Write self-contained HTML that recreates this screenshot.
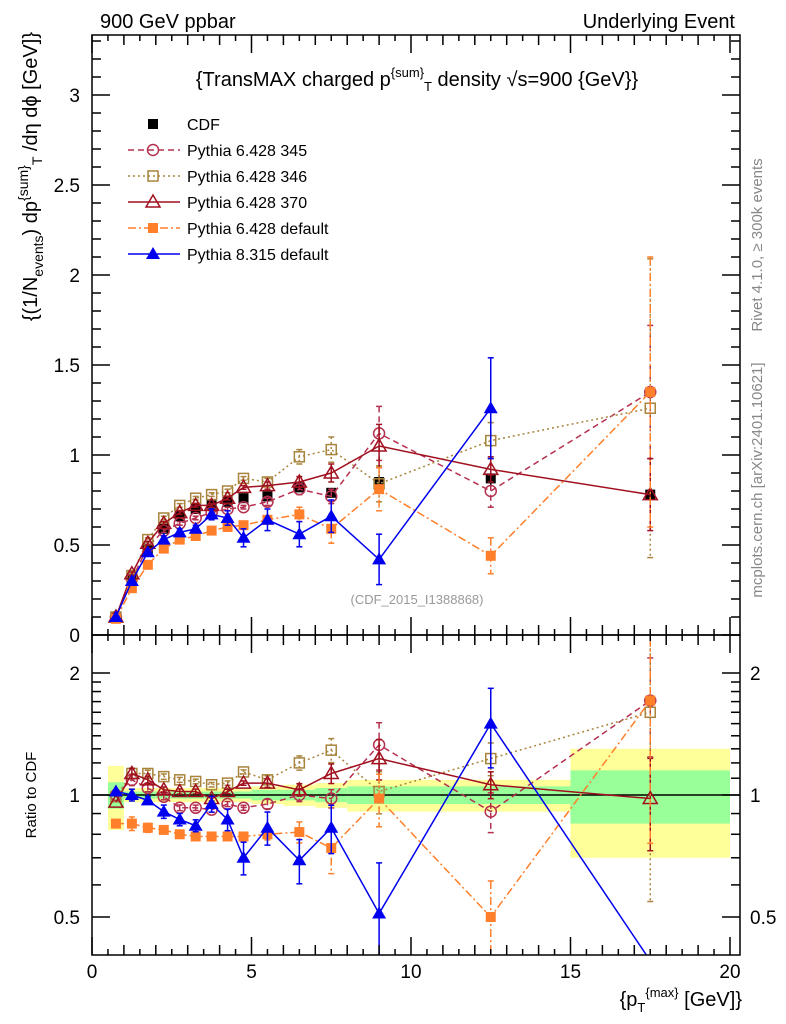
<!DOCTYPE html>
<html><head><meta charset="utf-8">
<style>
html,body{margin:0;padding:0;background:#fff;}
svg{display:block;font-family:"Liberation Sans",sans-serif;}
</style></head>
<body>
<svg id="c" width="786" height="1024" viewBox="0 0 786 1024" xmlns="http://www.w3.org/2000/svg">
<text x="100" y="28" font-size="20">900 GeV ppbar</text>
<text x="735" y="28" font-size="20" text-anchor="end">Underlying Event</text>
<text x="417" y="86" font-size="20" text-anchor="middle">{TransMAX charged p<tspan dy="-9" font-size="13">{sum}</tspan><tspan dy="14" font-size="13">T</tspan><tspan dy="-5"> density √s=900 {GeV}}</tspan></text>
<text transform="translate(37,32) rotate(-90)" font-size="20" text-anchor="end">{(1/N<tspan dy="6" font-size="14">events</tspan><tspan dy="-6">) dp</tspan><tspan dy="-9" font-size="14">{sum}</tspan><tspan dy="14" font-size="14">T</tspan><tspan dy="-5"> /dη  dϕ [GeV]}</tspan></text>
<text transform="translate(36,795) rotate(-90)" font-size="15" text-anchor="middle">Ratio to CDF</text>
<text x="742" y="1006" font-size="20" text-anchor="end">{p<tspan dy="6" font-size="13">T</tspan><tspan dy="-15" font-size="13">{max}</tspan><tspan dy="9"> [GeV]}</tspan></text>
<text transform="translate(762,245) rotate(-90)" font-size="15" fill="#888" text-anchor="middle">Rivet 4.1.0, ≥ 300k events</text>
<text transform="translate(762,480) rotate(-90)" font-size="15" fill="#888" text-anchor="middle">mcplots.cern.ch [arXiv:2401.10621]</text>
<text x="417" y="604" font-size="13" fill="#999" text-anchor="middle">(CDF_2015_I1388868)</text>
<g id="bands"></g><g id="plots"></g><g id="axes"></g><g id="legend"></g>
</svg>
<script>
const xs = [0.75,1.25,1.75,2.25,2.75,3.25,3.75,4.25,4.75,5.5,6.5,7.5,9,12.5,17.5];
const cdf = [0.10,0.31,0.48,0.59,0.66,0.70,0.72,0.74,0.76,0.77,0.82,0.79,0.85,0.87,0.78];
const cdfErr = [0.005,0.01,0.01,0.01,0.01,0.01,0.01,0.01,0.01,0.02,0.02,0.02,0.04,0.04,0.2];
const p345 = [0.10,0.31,0.49,0.58,0.62,0.65,0.68,0.70,0.71,0.74,0.81,0.77,1.12,0.80,1.35];
const p346 = [0.10,0.33,0.53,0.65,0.72,0.76,0.78,0.80,0.87,0.85,0.99,1.03,0.84,1.08,1.26];
const p370 = [0.10,0.34,0.51,0.62,0.68,0.72,0.72,0.76,0.82,0.83,0.85,0.90,1.05,0.92,0.78];
const pdef = [0.09,0.26,0.39,0.48,0.53,0.55,0.58,0.60,0.61,0.64,0.67,0.59,0.81,0.44,1.35];
const p8 = [0.10,0.30,0.46,0.53,0.57,0.59,0.67,0.65,0.54,0.64,0.56,0.66,0.42,1.26,null];
const e345 = [0,0.01,0.01,0.01,0.01,0.01,0.01,0.01,0.01,0.02,0.03,0.04,0.15,0.09,0.37];
const e346 = [0,0.01,0.01,0.01,0.01,0.01,0.01,0.01,0.01,0.02,0.04,0.07,0.1,0.1,0.83];
const e370 = [0,0.01,0.01,0.01,0.01,0.01,0.01,0.01,0.01,0.02,0.03,0.05,0.12,0.07,0.2];
const edef = [0,0.01,0.01,0.01,0.01,0.01,0.01,0.01,0.01,0.02,0.04,0.08,0.12,0.1,0.75];
const e8 = [0,0.01,0.01,0.02,0.02,0.02,0.03,0.04,0.05,0.06,0.07,0.09,0.14,0.28,0];
const r345 = [1.0,1.09,1.04,0.99,0.93,0.93,0.92,0.95,0.93,0.95,1.0,0.98,1.33,0.91,1.71];
const r346 = [0.99,1.13,1.13,1.11,1.09,1.08,1.06,1.07,1.14,1.09,1.2,1.29,1.02,1.23,1.6];
const r370 = [0.96,1.13,1.09,1.03,1.02,1.02,0.98,1.02,1.07,1.07,1.03,1.13,1.23,1.06,0.98];
const rdef = [0.85,0.85,0.83,0.82,0.80,0.79,0.79,0.79,0.79,0.80,0.81,0.74,0.98,0.50,1.71];
const r8 = [1.02,1.0,0.97,0.91,0.87,0.84,0.95,0.87,0.70,0.83,0.69,0.83,0.51,1.5,0.39];
const binEdges = [0.5,1,1.5,2,2.5,3,3.5,4,4.5,5,6,7,8,10,15,20];
const bandStat = [0.075,0.02,0.02,0.02,0.02,0.02,0.02,0.02,0.02,0.03,0.03,0.04,0.05,0.05,0.15];
const bandTot = [0.18,0.04,0.04,0.04,0.04,0.04,0.04,0.04,0.04,0.05,0.06,0.07,0.09,0.09,0.3];
const mainYTicks = ["0","0.5","1","1.5","2","2.5","3"];
const xTickLabels = ["0","5","10","15","20"];

const NS="http://www.w3.org/2000/svg";
const L=92,R=740,MT=35,MB=635,RT=635,RB=955;
const X=v=>L+v*(730-92)/20;
const Y=v=>635-v*180;
const RY=v=>795-Math.log2(v)*122;
function mk(tag,parent,attrs){const e=document.createElementNS(NS,tag);for(const k in attrs)e.setAttribute(k,attrs[k]);parent.appendChild(e);return e;}
const gB=document.getElementById('bands'),gP=document.getElementById('plots'),gA=document.getElementById('axes'),gL=document.getElementById('legend');
const cm=mk('clipPath',gP,{id:'cm'});mk('rect',cm,{x:L,y:MT,width:R-L,height:MB-MT});
const cr=mk('clipPath',gP,{id:'cr'});mk('rect',cr,{x:L,y:RT,width:R-L,height:RB-RT});

// bands
binEdges.slice(0,-1).forEach((e,i)=>{
  const x0=X(e),x1=X(binEdges[i+1]);
  const y=mk('rect',gB,{x:x0,y:RY(1+bandTot[i]),width:x1-x0,height:RY(1-bandTot[i])-RY(1+bandTot[i]),fill:'#ffff99'});
  
  
  const g=mk('rect',gB,{x:x0,y:RY(1+bandStat[i]),width:x1-x0,height:RY(1-bandStat[i])-RY(1+bandStat[i]),fill:'#99ff99'});
  
  
});
const one=mk('line',gB,{x1:L,x2:R,y1:RY(1),y2:RY(1),stroke:'#000','stroke-width':1.5});



function marker(g,type,x,y,col){
  if(type==='fsq')return mk('rect',g,{x:x-5,y:y-5,width:10,height:10,fill:col});
  if(type==='osq')return mk('rect',g,{x:x-5,y:y-5,width:10,height:10,fill:'none',stroke:col,'stroke-width':1.5});
  if(type==='ocirc')return mk('circle',g,{cx:x,cy:y,r:5.5,fill:'none',stroke:col,'stroke-width':1.5});
  if(type==='otri')return mk('path',g,{d:`M${x},${y-7}L${x+7},${y+5}L${x-7},${y+5}Z`,fill:'none',stroke:col,'stroke-width':1.5});
  if(type==='ftri')return mk('path',g,{d:`M${x},${y-7}L${x+7},${y+5}L${x-7},${y+5}Z`,fill:col});
}
const series=[
 {name:'pythia-6428-345',label:'Pythia 6.428 345',v:p345,e:e345,r:r345,col:'#b5304f',dash:'6,4',m:'ocirc'},
 {name:'pythia-6428-346',label:'Pythia 6.428 346',v:p346,e:e346,r:r346,col:'#a8843c',dash:'2,3',m:'osq'},
 {name:'pythia-6428-370',label:'Pythia 6.428 370',v:p370,e:e370,r:r370,col:'#a0101e',dash:'',m:'otri'},
 {name:'pythia-6428-default',label:'Pythia 6.428 default',v:pdef,e:edef,r:rdef,col:'#ff7f2a',dash:'8,3,2,3',m:'fsq'},
 {name:'pythia-8315-default',label:'Pythia 8.315 default',v:p8,e:e8,r:r8,col:'#0000ee',dash:'',m:'ftri'}
];
{const g=mk('g',gP,{'clip-path':'url(#cm)'});
 
 
 xs.forEach((x,i)=>{mk('line',g,{x1:X(x),x2:X(x),y1:Y(cdf[i]+cdfErr[i]),y2:Y(cdf[i]-cdfErr[i]),stroke:'#000','stroke-width':1.5});
  const m=marker(g,'fsq',X(x),Y(cdf[i]),'#000');
  
  });}
series.forEach(s=>{
 const g=mk('g',gP,{'clip-path':'url(#cm)'});
 
 
 const pts=xs.map((x,i)=>s.v[i]==null?null:[X(x),Y(s.v[i])]).filter(p=>p);
 mk('polyline',g,{points:pts.map(p=>p.join(',')).join(' '),fill:'none',stroke:s.col,'stroke-width':1.5,'stroke-dasharray':s.dash});
 xs.forEach((x,i)=>{if(s.v[i]==null)return;
  if(s.e[i]>0){mk('line',g,{x1:X(x),x2:X(x),y1:Y(s.v[i]+s.e[i]),y2:Y(s.v[i]-s.e[i]),stroke:s.col,'stroke-width':1.5,'stroke-dasharray':s.dash});
   [s.v[i]+s.e[i],s.v[i]-s.e[i]].forEach(v=>mk('line',g,{x1:X(x)-3,x2:X(x)+3,y1:Y(v),y2:Y(v),stroke:s.col,'stroke-width':1.5}));}
  const m=marker(g,s.m,X(x),Y(s.v[i]),s.col);
  
  });
 const gr=mk('g',gP,{'clip-path':'url(#cr)'});
 
 
 mk('polyline',gr,{points:xs.map((x,i)=>X(x)+','+RY(s.r[i])).join(' '),fill:'none',stroke:s.col,'stroke-width':1.5,'stroke-dasharray':s.dash});
 xs.forEach((x,i)=>{
  const v=s.v[i]==null?0:s.v[i];
  const re=v>0?s.r[i]*s.e[i]/v:0;
  if(re>0){mk('line',gr,{x1:X(x),x2:X(x),y1:RY(s.r[i]+re),y2:RY(Math.max(0.05,s.r[i]-re)),stroke:s.col,'stroke-width':1.5,'stroke-dasharray':s.dash});
   [s.r[i]+re,Math.max(0.05,s.r[i]-re)].forEach(r=>mk('line',gr,{x1:X(x)-3,x2:X(x)+3,y1:RY(r),y2:RY(r),stroke:s.col,'stroke-width':1.5}));}
  const m=marker(gr,s.m,X(x),RY(s.r[i]),s.col);
  
  });
});

[[MT,MB],[RT,RB]].forEach(([t,b])=>mk('rect',gA,{x:L,y:t,width:R-L,height:b-t,fill:'none',stroke:'#000','stroke-width':1.5}));
for(let v=0;v<=20.01;v+=0.5){const maj=Math.abs(v%5)<1e-6,len=maj?18:(Math.abs(v%1)<1e-6?10:6);
 [MB,RB].forEach(b=>mk('line',gA,{x1:X(v),x2:X(v),y1:b,y2:b-len,stroke:'#000','stroke-width':1.5}));
 [MT,RT].forEach(t=>mk('line',gA,{x1:X(v),x2:X(v),y1:t,y2:t+len,stroke:'#000','stroke-width':1.5}));}
xTickLabels.forEach(t=>{const e=mk('text',gA,{x:X(+t),y:978,'font-size':19,'text-anchor':'middle'});e.textContent=t;
 
 });
for(let i=0;i<=33;i++){const v=i/10;const maj=i%5===0,len=maj?18:9;if(Y(v)<MT)continue;
 mk('line',gA,{x1:L,x2:L+len,y1:Y(v),y2:Y(v),stroke:'#000','stroke-width':1.5});
 mk('line',gA,{x1:R,x2:R-len,y1:Y(v),y2:Y(v),stroke:'#000','stroke-width':1.5});}
mainYTicks.forEach(t=>{const e=mk('text',gA,{x:80,y:Y(+t)+7,'font-size':19,'text-anchor':'end'});e.textContent=t;
 
 });
[0.4,0.5,0.6,0.7,0.8,0.9,1,2].concat([1.1,1.2,1.3,1.4,1.5,1.6,1.7,1.8,1.9]).forEach(v=>{const y=RY(v);if(y<RT||y>RB)return;
 const maj=[0.5,1,2].includes(v),len=maj?18:9;
 mk('line',gA,{x1:L,x2:L+len,y1:y,y2:y,stroke:'#000','stroke-width':1.5});
 mk('line',gA,{x1:R,x2:R-len,y1:y,y2:y,stroke:'#000','stroke-width':1.5});});
["0.5","1","2"].forEach(t=>{[[80,'end'],[750,'start']].forEach(([x,a])=>{const e=mk('text',gA,{x:x,y:RY(+t)+7,'font-size':19,'text-anchor':a});e.textContent=t;
 
 });});

const leg=[{label:'CDF',col:'#000',m:'fsq',dash:null}].concat(series);
leg.forEach((s,i)=>{const y=124+i*26;const g=mk('g',gL,{});
 
 
 if(s.dash!==null)mk('line',g,{x1:128,x2:180,y1:y,y2:y,stroke:s.col,'stroke-width':1.5,'stroke-dasharray':s.dash});
 marker(g,s.m,153,y,s.col);
 const t=mk('text',g,{x:187,y:y+6,'font-size':16});t.textContent=s.label;});
</script>
</body></html>
